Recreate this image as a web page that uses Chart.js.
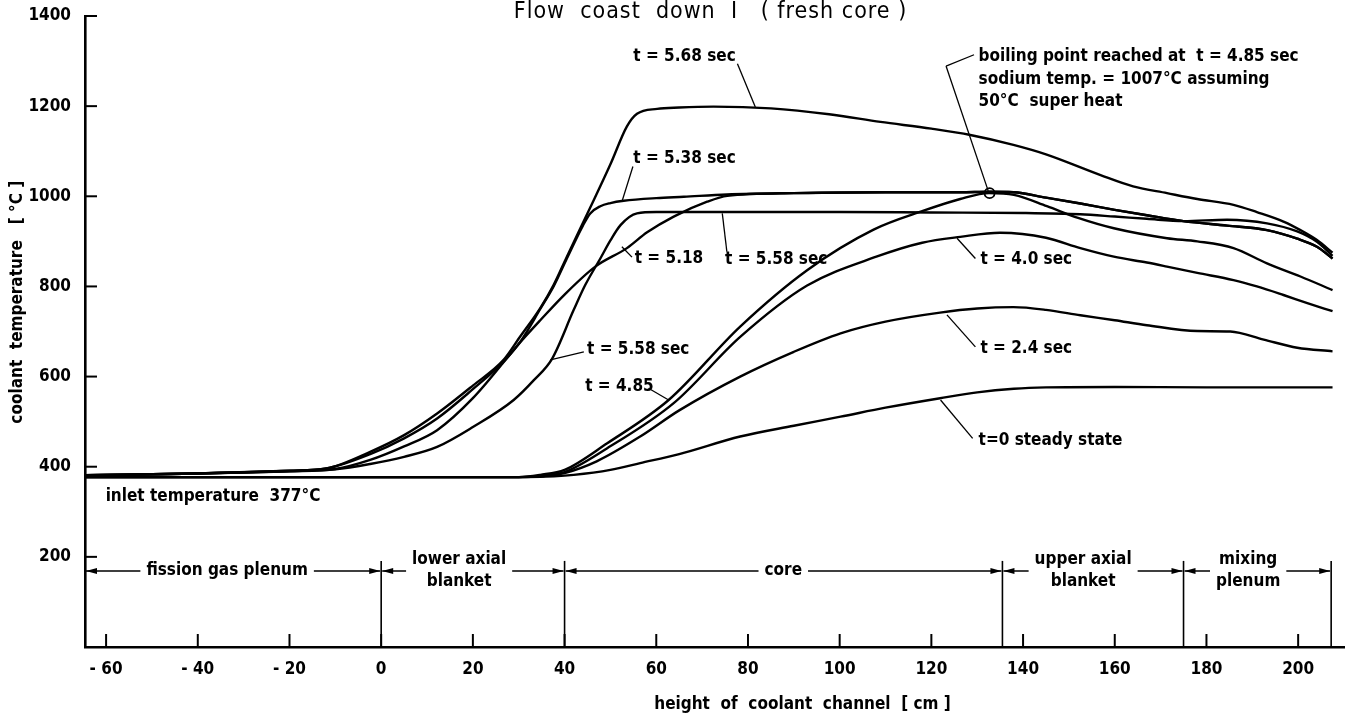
<!DOCTYPE html>
<html><head><meta charset="utf-8">
<script src="https://cdn.jsdelivr.net/npm/chart.js@4.4.0/dist/chart.umd.min.js"></script>
<style>html,body{margin:0;padding:0;background:#fff;}#wrap{width:1351px;height:720px;}</style>
</head><body><div id="wrap"><canvas id="c" width="1351" height="720"></canvas></div>
<script>
// ---- axis ticks ----
const xTicks = [-60,-40,-20,0,20,40,60,80,100,120,140,160,180,200];
const yTicks = [200,400,600,800,1000,1200,1400];

// ---- series: height of coolant channel [cm] / coolant temperature [°C] ----
const h0   = [-64.6,30,36,42,50,56.5,65,78.3,90,100.2,110,121.9,130,138,145,160,180,207.5];
const T0   = [377,377,378,382,393,408,428,467,491,511,531,552,565,573,576,577,576,576];

const h24  = [-64.6,30,35,40,47,56.5,65,78.3,90,100.2,110,121.9,130,137.9,145,152.5,160,167,178,185.2,192.5,199.8,207.5];
const T24  = [377,377,379,386,412,467,525,600,655,696,722,742,751,754,748,736,725,714,701,700,682,664,656];

const h40  = [-64.6,30,35,40,49.3,63.8,78.3,92.9,108,118,126.3,135,145,152.5,159.8,167,171.4,178,185.9,191,196.8,202,207.5];
const T40  = [377,377,379,388,441,541,688,802,866,897,910,919,908,885,866,853,844,830,814,800,781,763,745];

const h485 = [-64.6,30,34.7,40,49.3,62.7,78.3,92.9,107.4,118.3,126.3,132.6,138,145.2,152,159.8,171.4,178,185.9,193.2,200.5,207.5];
const T485 = [377,377,382,393,452,548,711,836,926,968,994,1007,1003,978,952,929,907,900,885,851,822,792];

const h518 = [-64.6,-40,-20,-10,-2.4,5,12.2,20,30.4,34.7,40,46.7,53.6,58,63.8,71.1,75.5,90,110,126.3,132.6,137.9,145,152.5,160,167,175,184.5,193.2,199.8,204.1,207.5];
const T518 = [381,385,390,395,415,445,481,552,677,725,782,844,885,920,955,988,1001,1007,1009,1009,1010,1009,997,984,970,958,945,935,925,906,888,862];

const h538 = [-64.6,-40,-20,-12,-2.4,5,12.2,20,26.7,30.4,34.7,37.6,40.5,44,45.6,47.8,50,52.9,60,66,75.4,90,110,126.3,132.6,137.9,145,152.5,160,167,175,184.5,193.2,199.8,204.1,207.5];
const T538 = [381,385,391,396,428,463,507,572,633,678,750,800,862,935,962,978,985,990,996,999,1004,1007,1009,1009,1010,1009,997,984,970,958,945,935,925,906,888,862];

const h558 = [-64.6,-40,-20,-10,-2.4,5,12.2,20,28.9,33.3,37.3,42,44.5,47.8,50,52.2,55.8,60,80,100,120,140,152.5,160,167,175,184.5,193.2,199.8,204.1,207.5];
const T558 = [381,385,390,394,406,422,444,488,548,592,640,748,803,862,902,936,962,965,965,965,964,963,960,955,950,945,948,940,922,899,868];

const h568 = [-64.6,-40,-20,-12,-2.4,5,12.2,20,26.7,30.4,34.7,37.6,40.5,45.6,50,53.6,55.8,60.2,65,72.5,85,97.7,108.9,120,128.5,137.9,145,156.9,164,171.4,178,185.9,191,196.8,200.5,204.1,207.5];
const T568 = [381,385,391,396,433,470,518,580,637,690,752,803,866,975,1071,1155,1183,1194,1197,1199,1195,1182,1165,1150,1136,1114,1093,1047,1022,1007,994,981,965,944,925,903,875];

// boiling point marker
const boilH = [132.7];
const boilT = [1007];

// curve labels (left end of text, in data units)
const noteText = ['t = 5.68 sec','t = 5.38 sec','t = 5.18','t = 5.58 sec','t = 5.58 sec','t = 4.85','t = 4.0 sec','t = 2.4 sec','t=0 steady state','inlet temperature  377°C'];
const noteH = [55.0,55.0,55.3,75.0,44.9,44.5,130.7,130.7,130.3,-60.1];
const noteT = [1309,1083,861,860,659,578,859,663,459,333];
const boilText = ['boiling point reached at  t = 4.85 sec','sodium temp. = 1007°C assuming','50°C  super heat'];
const boilTextH = 130.3;
const boilTextT = [1309,1259,1210];

// leader lines: from (h1,T1) to (h2,T2)
const leadH1 = [77.7,54.9,54.7,75.4,44.2,58.3,123.2,123.2,129.6,129.6,129.0];
const leadT1 = [1294,1066,865,877,655,574,1289,1289,862,666,463];
const leadH2 = [81.6,52.5,52.5,74.4,36.9,62.7,129.3,132.4,125.6,123.4,122.0];
const leadT2 = [1198,988,888,962,637,548,1314,1012,907,737,548];

// zones along the channel
const zoneEdges = [-64.6,0,40,135.5,175,207.2];
const zoneNames = [['fission gas plenum'],['lower axial','blanket'],['core'],['upper axial','blanket'],['mixing','plenum']];
const zoneLabelH = [-33.6,17.0,87.7,153.1,189.1];
const zoneLineT = 168.6;
const zoneTopT = 191;

const FONT = '"DejaVu Sans Condensed","DejaVu Sans",sans-serif';

const pts = (h,T)=>h.map((v,i)=>({x:v,y:T[i]}));
const curve = (h,T)=>({data:pts(h,T),borderColor:'#000',borderWidth:2.4,pointRadius:0,cubicInterpolationMode:'monotone',fill:false});
const datasets = [curve(h0,T0),curve(h24,T24),curve(h40,T40),curve(h485,T485),curve(h518,T518),curve(h538,T538),curve(h558,T558),curve(h568,T568)];
leadH1.forEach((v,i)=>datasets.push({data:[{x:v,y:leadT1[i]},{x:leadH2[i],y:leadT2[i]}],borderColor:'#000',borderWidth:1.3,pointRadius:0,tension:0}));
datasets.push({data:pts(boilH,boilT),showLine:false,pointRadius:5,pointBorderWidth:1.8,pointBorderColor:'#000',pointBackgroundColor:'rgba(0,0,0,0)'});

const decor = {
  id:'decor',
  afterDraw(chart){
    const {ctx, chartArea:a, scales:{x,y}} = chart;
    const X=v=>x.getPixelForValue(v), Y=v=>y.getPixelForValue(v);
    ctx.save();
    ctx.strokeStyle='#000'; ctx.fillStyle='#000';
    // inward tick marks
    ctx.lineWidth=2;
    yTicks.forEach(v=>{ctx.beginPath();ctx.moveTo(a.left,Y(v));ctx.lineTo(a.left+12,Y(v));ctx.stroke();});
    xTicks.forEach(v=>{ctx.beginPath();ctx.moveTo(X(v),a.bottom);ctx.lineTo(X(v),a.bottom-13);ctx.stroke();});
    // zone boundaries
    ctx.lineWidth=1.6;
    zoneEdges.slice(1).forEach(v=>{ctx.beginPath();ctx.moveTo(X(v),Y(0));ctx.lineTo(X(v),Y(zoneTopT));ctx.stroke();});
    const ly = Y(zoneLineT);
    const arrow=(px,dir)=>{ctx.beginPath();ctx.moveTo(px,ly);ctx.lineTo(px-dir*11,ly-3);ctx.lineTo(px-dir*11,ly+3);ctx.closePath();ctx.fill();};
    ctx.font='bold 17px '+FONT; ctx.textBaseline='middle'; ctx.textAlign='center';
    ctx.lineWidth=1.3;
    zoneNames.forEach((names,i)=>{
      const x1=X(zoneEdges[i])+1, x2=X(zoneEdges[i+1])-1, cx=X(zoneLabelH[i]);
      const w=Math.max(...names.map(s=>ctx.measureText(s).width));
      ctx.beginPath();ctx.moveTo(x1,ly);ctx.lineTo(cx-w/2-6,ly);ctx.moveTo(cx+w/2+6,ly);ctx.lineTo(x2,ly);ctx.stroke();
      arrow(x1,-1); arrow(x2,1);
      if(names.length===1){ctx.fillText(names[0],cx,ly);}
      else{ctx.fillText(names[0],cx,ly-11);ctx.fillText(names[1],cx,ly+11);}
    });
    // curve labels
    ctx.textAlign='left';
    noteText.forEach((s,i)=>ctx.fillText(s,X(noteH[i]),Y(noteT[i])));
    boilText.forEach((s,i)=>ctx.fillText(s,X(boilTextH),Y(boilTextT[i])));
    // axis titles
    ctx.textAlign='center';
    ctx.fillText('height  of  coolant  channel  [ cm ]',X(91.9),a.bottom+58);
    ctx.save(); ctx.translate(18,Y(765)); ctx.rotate(-Math.PI/2);
    ctx.fillText('coolant  temperature   [ °C ]',0,0); ctx.restore();
    // title
    ctx.font='23px '+FONT;
    if('letterSpacing' in ctx) ctx.letterSpacing='1px';
    ctx.fillText('Flow  coast  down  I   ( fresh core )',(a.left+a.right)/2-4,12);
    ctx.restore();
  }
};

new Chart(document.getElementById('c'),{
  type:'line',
  data:{datasets},
  options:{
    responsive:false, animation:false, devicePixelRatio:1,
    layout:{padding:{top:16,right:7,left:0,bottom:0}},
    plugins:{legend:{display:false},tooltip:{enabled:false},title:{display:false}},
    elements:{point:{radius:0}},
    scales:{
      x:{type:'linear',min:-64.6,max:210,
         afterBuildTicks:s=>{s.ticks=xTicks.map(v=>({value:v}));},
         afterFit:s=>{s.height=73;s.paddingLeft=0;s.paddingRight=0;},
         grid:{display:false,drawTicks:false},border:{display:true,color:'#000',width:2.6},
         ticks:{color:'#000',padding:12,maxRotation:0,autoSkip:false,font:{family:FONT,size:17,weight:'bold'},
           callback:v=>v<0?'- '+Math.abs(v):String(v)}},
      y:{type:'linear',min:0,max:1400,
         afterBuildTicks:s=>{s.ticks=yTicks.map(v=>({value:v}));},
         afterFit:s=>{s.width=85;s.paddingTop=0;s.paddingBottom=0;},
         grid:{display:false,drawTicks:false},border:{display:true,color:'#000',width:2.6},
         ticks:{color:'#000',padding:14,autoSkip:false,font:{family:FONT,size:17,weight:'bold'},
           callback:v=>String(v)}}
    }
  },
  plugins:[decor]
});
</script></body></html>
